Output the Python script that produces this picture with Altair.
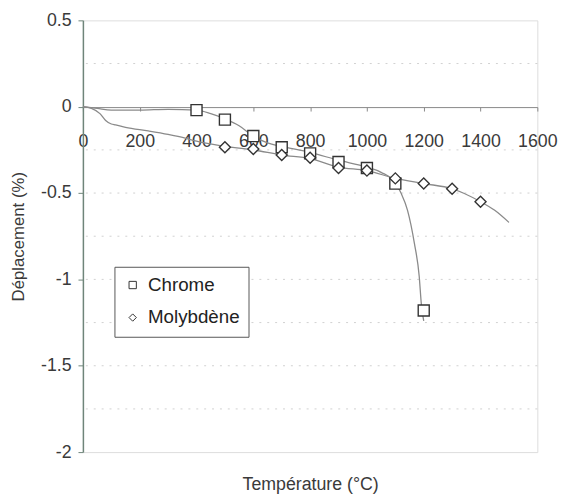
import altair as alt
import pandas as pd

# Chrome: measured curve and marker points
cr_line_t = [0, 50, 100, 200, 300, 400, 450, 500, 550, 600, 650, 700, 800, 900, 1000, 1050, 1100, 1120, 1143, 1167, 1184, 1192, 1200]
cr_line_v = [0, -0.01, -0.02, -0.02, -0.015, -0.02, -0.04, -0.07, -0.11, -0.17, -0.21, -0.23, -0.265, -0.31, -0.35, -0.38, -0.44, -0.5, -0.6, -0.79, -0.98, -1.15, -1.24]
cr_mark_t = [400, 500, 600, 700, 800, 900, 1000, 1100, 1200]
cr_mark_v = [-0.02, -0.075, -0.17, -0.235, -0.27, -0.32, -0.355, -0.445, -1.18]

# Molybdène: measured curve and marker points
mo_line_t = [0, 30, 60, 80, 100, 115, 150, 230, 300, 357, 400, 500, 600, 700, 800, 900, 1000, 1100, 1200, 1300, 1400, 1450, 1500]
mo_line_v = [0, -0.01, -0.04, -0.08, -0.1, -0.105, -0.12, -0.14, -0.16, -0.18, -0.2, -0.23, -0.25, -0.28, -0.3, -0.35, -0.37, -0.415, -0.445, -0.475, -0.55, -0.6, -0.67]
mo_mark_t = [500, 600, 700, 800, 900, 1000, 1100, 1200, 1300, 1400]
mo_mark_v = [-0.235, -0.245, -0.28, -0.295, -0.355, -0.37, -0.415, -0.445, -0.475, -0.55]

series = ["Chrome", "Molybdène"]
x_ticks = [0, 200, 400, 600, 800, 1000, 1200, 1400, 1600]
y_ticks = [-2, -1.5, -1, -0.5, 0, 0.5]
grid_levels = [0.25, -0.25, -0.5, -0.75, -1.0, -1.25, -1.5, -1.75]

lines = pd.DataFrame(
    [{"t": t, "v": v, "s": series[0]} for t, v in zip(cr_line_t, cr_line_v)]
    + [{"t": t, "v": v, "s": series[1]} for t, v in zip(mo_line_t, mo_line_v)]
)
marks = pd.DataFrame(
    [{"t": t, "v": v, "s": series[0]} for t, v in zip(cr_mark_t, cr_mark_v)]
    + [{"t": t, "v": v, "s": series[1]} for t, v in zip(mo_mark_t, mo_mark_v)]
)
grid_df = pd.DataFrame({"v": grid_levels})

FONT = "Liberation Sans"
AX = "#6f857a"
TXT = "#3a3a3a"

x_scale = alt.Scale(domain=[0, 1600], nice=False)
y_scale = alt.Scale(domain=[-2, 0.5], nice=False)

x_axis = alt.Axis(
    title="Température (°C)", values=x_ticks, format="d",
    offset=-350, grid=False, domainColor="#888", tickColor="#888", tickSize=4,
    labelFontSize=18, labelColor=TXT, labelPadding=22, labelFont=FONT, labelFlush=False,
    labelOverlap=False,
    titleFont=FONT, titleFontSize=18, titleFontWeight="normal", titleColor=TXT,
    titleY=383, titleBaseline="middle",
)
y_axis = alt.Axis(
    title="Déplacement (%)", values=y_ticks, format="~g",
    labelExpr="replace(datum.label, '\u2212', '-')",
    grid=False, domainColor=AX, domainWidth=1.5, tickColor=AX, tickSize=5,
    labelFontSize=18, labelColor=TXT, labelPadding=7, labelFont=FONT, labelFlush=False,
    titleFont=FONT, titleFontSize=17, titleFontWeight="normal", titleColor=TXT,
    titleX=-65, titleY=219, titleAlign="center", titleBaseline="middle", titleAngle=270,
)

legend = alt.Legend(
    title=None, orient="none", legendX=32, legendY=250,
    strokeColor="#555", fillColor="white", padding=9,
    labelFont=FONT, labelFontSize=19, labelColor="#222",
    symbolSize=55, symbolStrokeWidth=1, symbolFillColor="white",
    rowPadding=13, labelOffset=6,
)

line_layer = alt.Chart(lines).mark_line(color="#8a8a8a", strokeWidth=1.3, interpolate="monotone").encode(
    x=alt.X("t:Q", scale=x_scale, axis=x_axis),
    y=alt.Y("v:Q", scale=y_scale, axis=y_axis),
    detail="s:N",
)

grid = alt.Chart(grid_df).mark_rule(color="#d0d0d0", strokeDash=[2, 6], strokeWidth=1).encode(
    y=alt.Y("v:Q", scale=y_scale, axis=y_axis)
)

point_layer = alt.Chart(marks).mark_point(filled=False, fill="white", fillOpacity=1, strokeWidth=1.4, size=125).encode(
    x=alt.X("t:Q", scale=x_scale, axis=x_axis),
    y=alt.Y("v:Q", scale=y_scale, axis=y_axis),
    shape=alt.Shape("s:N", scale=alt.Scale(domain=series, range=["square", "diamond"]), legend=legend),
    stroke=alt.Stroke("s:N", scale=alt.Scale(domain=series, range=["#333333", "#333333"]), legend=legend),
)

chart = alt.layer(grid, line_layer, point_layer).properties(
    width=461, height=438,
    autosize=alt.AutoSizeParams(type="none"),
    padding={"left": 76, "top": 9, "right": 23, "bottom": 41},
).configure_view(stroke="#999", strokeWidth=1).configure(background="white")

chart.save("out.html", embed_options={"renderer": "svg", "actions": False})
